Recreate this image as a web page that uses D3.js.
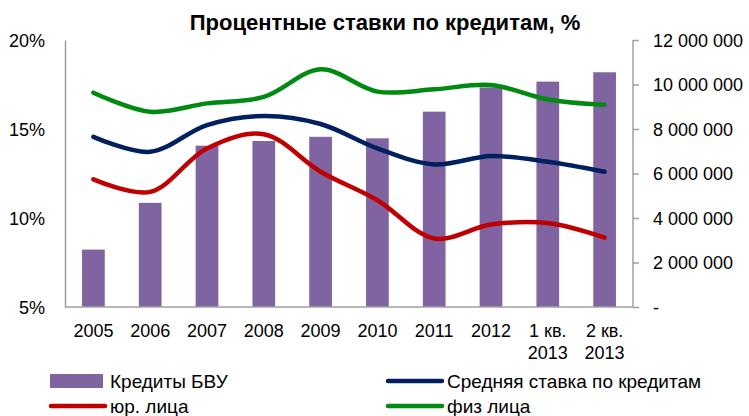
<!DOCTYPE html>
<html>
<head>
<meta charset="utf-8">
<script src="https://cdn.jsdelivr.net/npm/d3@7"></script>
<style>
  body { margin: 0; background: #fff; }
  svg text { font-family: "Liberation Sans", Arial, sans-serif; fill: #000; }
</style>
</head>
<body>
<div id="chart"></div>
<script>
// categories (second line of the label after "|")
const categories = ["2005", "2006", "2007", "2008", "2009", "2010", "2011", "2012", "1 кв.|2013", "2 кв.|2013"];
// Кредиты БВУ, right axis
const credits = [2580000, 4680000, 7250000, 7460000, 7650000, 7580000, 8780000, 9870000, 10130000, 10550000];
// rates, left axis, %
const avgRate = [14.56, 13.72, 15.22, 15.73, 15.28, 13.91, 13.01, 13.48, 13.16, 12.6];
const legalRate = [12.17, 11.47, 13.91, 14.71, 12.6, 11.0, 8.85, 9.63, 9.72, 8.9];
const personRate = [17.04, 15.97, 16.44, 16.8, 18.35, 17.1, 17.23, 17.47, 16.66, 16.36];
const leftTicks = [5, 10, 15, 20];
const rightTicks = [0, 2000000, 4000000, 6000000, 8000000, 10000000, 12000000];

const colors = {bar: "#8064a2", avg: "#002060", legal: "#c00000", person: "#008a12", axis: "#a0a0a0"};

const width = 749, height = 416;
const margin = {top: 40, right: 116, bottom: 109, left: 65};

const svg = d3.select("#chart").append("svg")
    .attr("width", width).attr("height", height);

const x = d3.scaleBand().domain(categories)
    .range([margin.left, width - margin.right]).paddingInner(0.6).paddingOuter(0.3);
const yL = d3.scaleLinear().domain([5, 20]).range([height - margin.bottom, margin.top]);
const yR = d3.scaleLinear().domain([0, 12000000]).range([height - margin.bottom, margin.top]);

const ru = d3.formatLocale({decimal: ",", thousands: " ", grouping: [3], currency: ["", ""]});
const fmtR = d => d === 0 ? "-" : ru.format(",")(d);

// title
svg.append("text")
    .attr("x", 385).attr("y", 30)
    .attr("text-anchor", "middle")
    .style("font-size", "22px").style("font-weight", "bold")
    .text("Процентные ставки по кредитам, %");

// bars
svg.append("g").selectAll("rect").data(credits).join("rect")
    .attr("x", (d, i) => x(categories[i]))
    .attr("width", x.bandwidth())
    .attr("y", d => yR(d))
    .attr("height", d => yR(0) - yR(d))
    .attr("fill", colors.bar);

// axes
const gL = svg.append("g").attr("transform", `translate(${margin.left},0)`)
    .call(d3.axisLeft(yL).tickValues(leftTicks).tickSize(0).tickPadding(20).tickFormat(d => d + "%"));
const gR = svg.append("g").attr("transform", `translate(${width - margin.right},0)`)
    .call(d3.axisRight(yR).tickValues(rightTicks).tickSize(6).tickPadding(14).tickFormat(fmtR));
const gX = svg.append("g").attr("transform", `translate(0,${height - margin.bottom})`)
    .call(d3.axisBottom(x).tickSize(0).tickPadding(16).tickFormat(""));

[gL, gR, gX].forEach(g => {
    g.select(".domain").attr("stroke", colors.axis).attr("stroke-width", 1.5);
    g.selectAll(".tick line").attr("stroke", colors.axis).attr("stroke-width", 1.5);
    g.selectAll("text").style("font-size", "18px").attr("fill", "#000");
});
gL.selectAll(".tick text").attr("dy", "0.35em");
gR.selectAll(".tick text").attr("dy", "0.35em");
gR.select(".domain").attr("d", `M0,${yR(12000000)}V${yR(0)}`);
gX.select(".domain").attr("d", `M${margin.left},0H${width - margin.right}`);

// multi-line x labels
gX.selectAll(".tick").each(function(d) {
    const t = d3.select(this).append("text")
        .attr("y", 30).attr("text-anchor", "middle")
        .style("font-size", "18px").attr("fill", "#000");
    d.split("|").forEach((s, k) => {
        t.append("tspan").attr("x", 0).attr("dy", k ? 22 : 0).text(s);
    });
});

// lines
const line = d3.line()
    .x((d, i) => x(categories[i]) + x.bandwidth() / 2)
    .y(d => yL(d))
    .curve(d3.curveCatmullRom.alpha(0.5));

const series = [
    {name: "Средняя ставка по кредитам", values: avgRate, color: colors.avg},
    {name: "юр. лица", values: legalRate, color: colors.legal},
    {name: "физ лица", values: personRate, color: colors.person}
];

svg.append("g").selectAll("path").data(series).join("path")
    .attr("d", d => line(d.values))
    .attr("fill", "none")
    .attr("stroke", d => d.color)
    .attr("stroke-width", 4.5)
    .attr("stroke-linecap", "round");

// legend
const legend = [
    {name: "Кредиты БВУ", type: "bar", color: colors.bar, x: 50, y: 381},
    {name: series[0].name, type: "line", color: series[0].color, x: 387, y: 381},
    {name: series[1].name, type: "line", color: series[1].color, x: 50, y: 406},
    {name: series[2].name, type: "line", color: series[2].color, x: 387, y: 406}
];
const lg = svg.append("g").selectAll("g").data(legend).join("g")
    .attr("transform", d => `translate(${d.x},${d.y})`);
lg.filter(d => d.type === "bar").append("rect")
    .attr("x", 0).attr("y", -7).attr("width", 53).attr("height", 14).attr("fill", d => d.color);
lg.filter(d => d.type === "line").append("line")
    .attr("x1", 1).attr("x2", 55).attr("y1", 0).attr("y2", 0)
    .attr("stroke", d => d.color).attr("stroke-width", 4.5).attr("stroke-linecap", "round");
lg.append("text").attr("x", 60).attr("dy", "0.35em")
    .style("font-size", "19px").text(d => d.name);
</script>
</body>
</html>
